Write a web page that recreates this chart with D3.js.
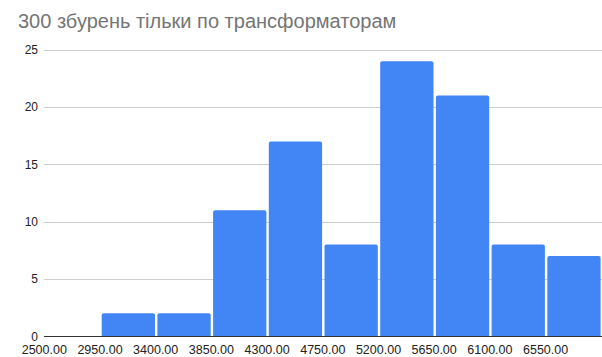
<!DOCTYPE html>
<html>
<head>
<meta charset="utf-8">
<script src="https://cdn.jsdelivr.net/npm/d3@7"></script>
<style>
  body { margin: 0; background: #fff; }
  svg { display: block; font-family: Arial, "Liberation Sans", sans-serif; }
</style>
</head>
<body>
<div id="chart"></div>
<script>
// histogram bins (lower edges) and counts
var binStarts = [2500, 2950, 3400, 3850, 4300, 4750, 5200, 5650, 6100, 6550];
var binWidth = 450;
var counts = [0, 2, 2, 11, 17, 8, 24, 21, 8, 7];
var xTicks = [2500, 2950, 3400, 3850, 4300, 4750, 5200, 5650, 6100, 6550];
var yTicks = [0, 5, 10, 15, 20, 25];
var title = "300 збурень тільки по трансформаторам";

var width = 602, height = 357;
var svg = d3.select("#chart").append("svg")
    .attr("width", width)
    .attr("height", height);

var x = d3.scaleLinear().domain([2500, 7000]).range([44.8, 601.8]);
var y = d3.scaleLinear().domain([0, 25]).range([336.3, 49.7]);

svg.append("text")
    .attr("x", 18)
    .attr("y", 27.5)
    .attr("fill", "#757575")
    .style("font-size", "20px")
    .text(title);

// grid
var grid = svg.append("g");
grid.selectAll("line").data(yTicks.filter(function(d) { return d > 0; }))
    .enter().append("line")
    .attr("x1", 44).attr("x2", 602)
    .attr("y1", function(d) { return Math.round(y(d)) + 0.5; })
    .attr("y2", function(d) { return Math.round(y(d)) + 0.5; })
    .attr("stroke", "#cccccc")
    .attr("stroke-width", 1);

grid.selectAll("text").data(yTicks)
    .enter().append("text")
    .attr("x", 38)
    .attr("y", function(d) { return y(d); })
    .attr("dy", "0.35em")
    .attr("text-anchor", "end")
    .attr("fill", "#222")
    .style("font-size", "12px")
    .text(function(d) { return d; });

// bars
svg.append("g").selectAll("path").data(binStarts)
    .enter().append("path")
    .filter(function(d, i) { return counts[i] > 0; })
    .attr("fill", "#4285f4")
    .attr("d", function(d) {
        var i = binStarts.indexOf(d);
        var x0 = x(d) + 1.2, x1 = x(d + binWidth) - 1.2;
        var y0 = y(counts[i]), y1 = y(0);
        var r = 2;
        return "M" + x0 + "," + y1 +
            "V" + (y0 + r) +
            "Q" + x0 + "," + y0 + " " + (x0 + r) + "," + y0 +
            "H" + (x1 - r) +
            "Q" + x1 + "," + y0 + " " + x1 + "," + (y0 + r) +
            "V" + y1 + "Z";
    });

// baseline
svg.append("line")
    .attr("x1", 44).attr("x2", 602)
    .attr("y1", Math.round(y(0)) + 0.5).attr("y2", Math.round(y(0)) + 0.5)
    .attr("stroke", "#333")
    .attr("stroke-width", 1);

// x labels
svg.append("g").selectAll("text").data(xTicks)
    .enter().append("text")
    .attr("x", function(d) { return x(d) - 0.5; })
    .attr("y", 353.5)
    .attr("text-anchor", "middle")
    .attr("fill", "#222")
    .style("font-size", "12.5px")
    .text(function(d) { return d.toFixed(2); });
</script>
</body>
</html>
